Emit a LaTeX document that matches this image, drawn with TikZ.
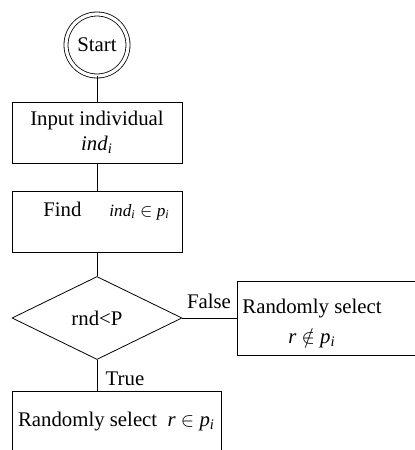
\documentclass[tikz,border=0pt]{standalone}
\usepackage{fontspec}
\setmainfont{Liberation Serif}
\usetikzlibrary{shapes.geometric}
\newcommand{\subvar}[1]{\textit{#1}\textsubscript{\textit{i}}}

\begin{document}
\begin{tikzpicture}[x=0.5pt,y=-0.5pt,
    font=\fontsize{10.4}{12.5}\selectfont,
    every node/.style={inner sep=0pt},
    box/.style={draw,rectangle,minimum width=85pt,minimum height=30.5pt,align=center}]
  \useasboundingbox (0,0) rectangle (415,450);
  \node[circle,draw,double,double distance=1.6pt,minimum size=31pt] (start) at (97,45) {Start};
  \node[box] (input) at (97,132.5) {Input individual\\\subvar{ind}};
  \node[box] (find) at (97,221.5) {\hspace*{9.5pt}Find\hspace{14pt}{\fontsize{8.6}{10}\selectfont\subvar{ind} $\in$ \subvar{p}}\\\mbox{}};
  \node[diamond,draw,aspect=2,minimum width=85pt,minimum height=41.5pt] (test) at (97,318) {rnd<P};
  \node[box,minimum width=100pt,minimum height=37pt] (outsel) at (337,318.5) {};
  \node[align=center] (outtext) at (312,323) {Randomly select\\[2.5pt]\textit{r} $\notin$ \subvar{p}};
  \node[box,minimum width=104.5pt] (insel) at (116.5,421.5) {Randomly select \ \textit{r} $\in$ \subvar{p}};
  \draw (start) -- (input);
  \draw (input) -- (find);
  \draw (find) -- (test);
  \draw (test.east) -- (test.east -| outsel.west);
  \draw (test.south) -- (test.south |- insel.north);
  \node (false) at (209,301) {False};
  \node (true) at (125,379) {True};
\end{tikzpicture}
\end{document}
